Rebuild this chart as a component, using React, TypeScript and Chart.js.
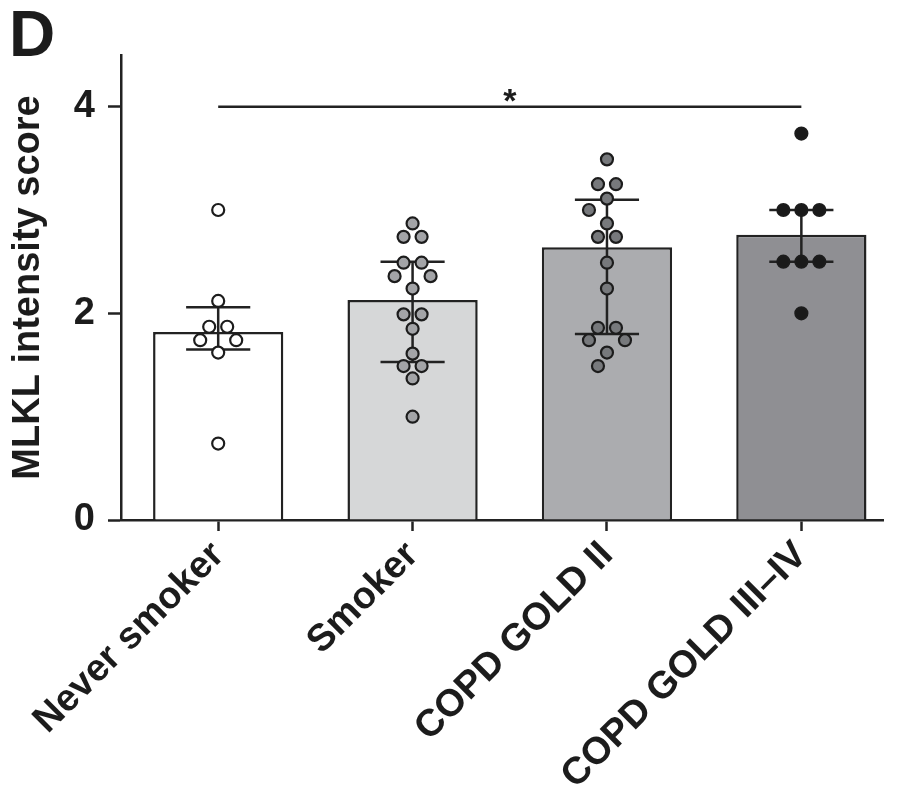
import React, { useEffect, useRef } from 'react';
import { Chart, registerables } from 'chart.js';

Chart.register(...registerables);

// ---- data ----
const categories = ['Never smoker', 'Smoker', 'COPD GOLD II', 'COPD GOLD III\u2013IV'];
const barMeans = [1.82, 2.13, 2.64, 2.76];
const errLower = [1.65, 1.53, 1.8, 2.5];
const errUpper = [2.06, 2.5, 3.1, 3.0];
const neverSmoker = [3.0, 2.12, 1.87, 1.87, 1.74, 1.74, 1.62, 0.74];
const smoker = [2.87, 2.74, 2.74, 2.49, 2.49, 2.36, 2.36, 2.24, 1.99, 1.99, 1.85, 1.61, 1.49, 1.49, 1.37, 1.0];
const goldII = [3.49, 3.25, 3.25, 3.11, 3.0, 2.87, 2.74, 2.74, 2.49, 2.24, 1.86, 1.86, 1.74, 1.74, 1.62, 1.49];
const goldIIIIV = [3.74, 3.0, 3.0, 3.0, 2.5, 2.5, 2.5, 2.0];
const yTicks = [0, 2, 4];
const sigFrom = 0;
const sigTo = 3;
const sigLevel = 4.0;
const sigLabel = '*';
const panelLabel = 'D';
const yTitle = 'MLKL intensity score';

// ---- styles ----
const FONT = '"Liberation Sans", Arial, Helvetica, sans-serif';
const INK = '#1c1c1c';
const LINE = '#222222';
const barFills = ['#ffffff', '#d6d7d8', '#abacaf', '#8f8f93'];
const dotFills = ['#ffffff', '#a3a4a7', '#77797c', '#1a1a1a'];
const X_PX = 194.4; // px per category unit (layout)
const Y_PX = 103.2; // px per score unit (layout)
const DOT_SPACING = 18;
const DOT_CLEAR = 15;
const CAP_HALF = 0.165;

function swarmOffsets(values: number[]): number[] {
  const order = values.map((_, i) => i).sort((a, b) => values[b] - values[a]);
  const rows: number[][] = [];
  for (const i of order) {
    const last = rows[rows.length - 1];
    if (last && Math.abs(values[last[0]] - values[i]) < 1e-9) last.push(i);
    else rows.push([i]);
  }
  const placed: { x: number; y: number }[] = [];
  const out = new Array(values.length).fill(0);
  for (const row of rows) {
    const n = row.length;
    const y = values[row[0]] * Y_PX;
    const configs: { sp: number; sh: number }[] = [];
    for (let k = 0; k < 10; k++) {
      const shifts = k === 0 ? [0] : [(-k * DOT_SPACING) / 2, (k * DOT_SPACING) / 2];
      for (const sh of shifts) {
        configs.push({ sp: DOT_SPACING, sh });
        if (n > 1) configs.push({ sp: DOT_SPACING * 2, sh });
      }
    }
    let chosen: number[] = [];
    for (const c of configs) {
      const xs = row.map((_, k) => (k - (n - 1) / 2) * c.sp + c.sh);
      if (xs.every((x) => placed.every((p) => Math.hypot(p.x - x, p.y - y) >= DOT_CLEAR))) {
        chosen = xs;
        break;
      }
    }
    if (!chosen.length) chosen = row.map((_, k) => (k - (n - 1) / 2) * DOT_SPACING);
    row.forEach((idx, k) => {
      out[idx] = chosen[k] / X_PX;
      placed.push({ x: chosen[k], y });
    });
  }
  return out;
}

const groups = [neverSmoker, smoker, goldII, goldIIIIV];

const errorBarPlugin = {
  id: 'errorBars',
  afterDatasetDraw(chart: any, args: any) {
    if (args.index !== 0) return;
    const { ctx, scales } = chart;
    const xs = scales.x;
    const ys = scales.y;
    ctx.save();
    ctx.strokeStyle = LINE;
    ctx.lineWidth = 2.5;
    ctx.lineCap = 'butt';
    categories.forEach((_, i) => {
      const cx = xs.getPixelForValue(i);
      const x0 = xs.getPixelForValue(i - CAP_HALF);
      const x1 = xs.getPixelForValue(i + CAP_HALF);
      const yl = ys.getPixelForValue(errLower[i]);
      const yu = ys.getPixelForValue(errUpper[i]);
      ctx.beginPath();
      ctx.moveTo(cx, yl);
      ctx.lineTo(cx, yu);
      ctx.moveTo(x0, yl);
      ctx.lineTo(x1, yl);
      ctx.moveTo(x0, yu);
      ctx.lineTo(x1, yu);
      ctx.stroke();
    });
    ctx.restore();
  },
};

const annotationPlugin = {
  id: 'annotations',
  afterDraw(chart: any) {
    const { ctx, scales } = chart;
    const xs = scales.x;
    const ys = scales.y;
    ctx.save();
    ctx.fillStyle = INK;
    ctx.textAlign = 'center';
    ctx.textBaseline = 'alphabetic';
    ctx.font = `bold 34px ${FONT}`;
    const mx = xs.getPixelForValue((sigFrom + sigTo) / 2);
    const my = ys.getPixelForValue(sigLevel);
    ctx.fillText(sigLabel, mx, my + 5);
    ctx.textAlign = 'left';
    ctx.font = `bold 64px ${FONT}`;
    ctx.fillText(panelLabel, 9, 56);
    ctx.restore();
  },
};

export default function App() {
  const ref = useRef<HTMLCanvasElement | null>(null);
  useEffect(() => {
    if (!ref.current) return;
    const datasets: any[] = [
      {
        type: 'bar',
        data: categories.map((_, i) => ({ x: i, y: barMeans[i] })),
        backgroundColor: barFills,
        borderColor: LINE,
        borderWidth: 2.5,
        barPercentage: 0.67,
        categoryPercentage: 1,
        order: 3,
      },
      {
        type: 'line',
        data: [
          { x: sigFrom, y: sigLevel },
          { x: sigTo, y: sigLevel },
        ],
        borderColor: LINE,
        borderWidth: 2.5,
        pointRadius: 0,
        order: 0,
      },
    ];
    groups.forEach((vals, g) => {
      const offs = swarmOffsets(vals);
      datasets.push({
        type: 'scatter',
        data: vals.map((v, k) => ({ x: g + offs[k], y: v })),
        pointRadius: 6,
        pointBorderWidth: 2.2,
        pointBackgroundColor: dotFills[g],
        pointBorderColor: INK,
        order: 1,
      });
    });
    const chart = new Chart(ref.current, {
      type: 'bar',
      data: { datasets },
      options: {
        animation: false,
        responsive: false,
        layout: { padding: { top: 55, right: 21, left: 0, bottom: 0 } },
        plugins: { legend: { display: false }, tooltip: { enabled: false } },
        scales: {
          x: {
            type: 'linear',
            offset: false,
            min: -0.5,
            max: 3.42,
            afterBuildTicks: (s: any) => {
              s.ticks = categories.map((_, i) => ({ value: i }));
            },
            afterFit: (s: any) => {
              s.height = 283;
            },
            ticks: {
              autoSkip: false,
              minRotation: 45,
              maxRotation: 45,
              padding: 2,
              color: INK,
              font: { family: FONT, size: 38, weight: 'bold' },
              callback: (v: any) => categories[v as number] ?? '',
            },
            grid: {
              display: true,
              offset: false,
              drawOnChartArea: false,
              drawTicks: true,
              tickLength: 11,
              tickWidth: 2.5,
              tickColor: LINE,
            },
            border: { display: true, color: LINE, width: 2.5 },
          },
          y: {
            type: 'linear',
            min: 0,
            max: 4.5,
            afterBuildTicks: (s: any) => {
              s.ticks = yTicks.map((v) => ({ value: v }));
            },
            afterFit: (s: any) => {
              s.width = 121;
            },
            ticks: {
              padding: 13,
              color: INK,
              font: { family: FONT, size: 38, weight: 'bold' },
            },
            grid: {
              display: true,
              drawOnChartArea: false,
              drawTicks: true,
              tickLength: 13,
              tickWidth: 2.5,
              tickColor: LINE,
            },
            border: { display: true, color: LINE, width: 2.5 },
            title: {
              display: true,
              text: yTitle,
              color: INK,
              font: { family: FONT, size: 38, weight: 'bold' },
              padding: { top: 6, bottom: 0 },
            },
          },
        },
      } as any,
      plugins: [errorBarPlugin, annotationPlugin],
    });
    return () => chart.destroy();
  }, []);
  return (
    <div style={{ position: 'fixed', left: 0, top: 0, width: 904, height: 803, background: '#fff' }}>
      <canvas ref={ref} width={904} height={803} style={{ display: 'block' }} />
    </div>
  );
}
